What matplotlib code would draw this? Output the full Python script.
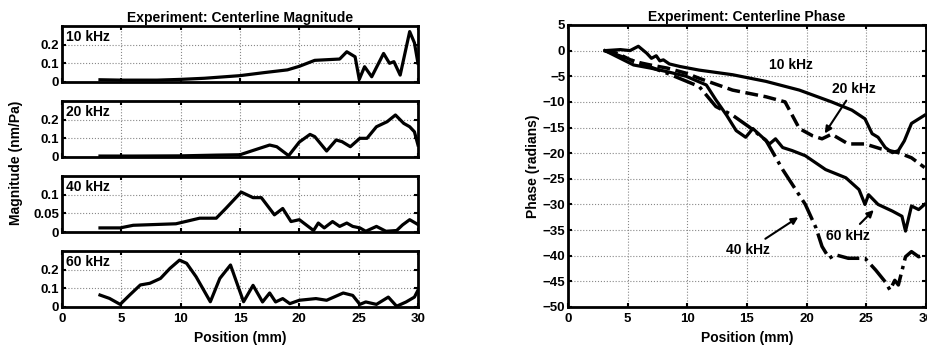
import matplotlib
matplotlib.use("Agg")
import matplotlib.pyplot as plt
import numpy as np

matplotlib.rcParams['font.family'] = ['Liberation Sans', 'DejaVu Sans']
matplotlib.rcParams['font.weight'] = 'bold'

# Magnitude curves (position mm, magnitude nm/Pa)
mag_10_x = [3.2, 5, 8, 10, 12, 15, 17, 19, 20, 21.3, 22.5, 23.4, 24.0, 24.7, 25.05, 25.5, 26.1, 27.1, 27.6, 27.97, 28.5, 29.3, 29.7, 30.0]
mag_10_y = [0.012, 0.01, 0.01, 0.014, 0.02, 0.034, 0.05, 0.065, 0.084, 0.116, 0.12, 0.123, 0.162, 0.135, 0.014, 0.082, 0.028, 0.153, 0.1, 0.109, 0.037, 0.27, 0.21, 0.1]

mag_20_x = [3.2, 6, 10, 13, 15, 16.1, 17.5, 18.1, 19.1, 20.0, 20.9, 21.3, 22.3, 23.1, 23.6, 24.3, 25.1, 25.7, 26.5, 27.4, 28.1, 28.8, 29.3, 29.7, 30.0]
mag_20_y = [0.005, 0.005, 0.006, 0.01, 0.012, 0.035, 0.064, 0.055, 0.007, 0.08, 0.121, 0.109, 0.032, 0.091, 0.082, 0.055, 0.1, 0.1, 0.162, 0.189, 0.225, 0.18, 0.162, 0.135, 0.064]

mag_40_x = [3.2, 4.9, 6.0, 9.6, 11.6, 13.0, 13.8, 15.1, 16.1, 16.8, 17.9, 18.6, 19.3, 20.0, 21.2, 21.6, 22.1, 22.8, 23.4, 24.0, 24.5, 25.1, 25.6, 26.5, 27.3, 28.2, 28.7, 29.3, 30.0]
mag_40_y = [0.011, 0.011, 0.018, 0.022, 0.037, 0.037, 0.063, 0.107, 0.092, 0.092, 0.046, 0.063, 0.028, 0.033, 0.004, 0.024, 0.011, 0.028, 0.015, 0.024, 0.015, 0.011, 0.002, 0.015, 0.002, 0.004, 0.019, 0.033, 0.02]

mag_60_x = [3.2, 4.0, 4.9, 5.7, 6.6, 7.4, 8.3, 9.1, 9.9, 10.5, 11.3, 12.5, 13.3, 14.2, 14.7, 15.3, 16.1, 16.9, 17.5, 18.0, 18.6, 19.2, 20.0, 21.4, 22.3, 23.7, 24.5, 25.1, 25.6, 26.5, 27.5, 28.2, 29.0, 29.7, 30.0]
mag_60_y = [0.064, 0.046, 0.014, 0.064, 0.118, 0.127, 0.153, 0.207, 0.251, 0.234, 0.162, 0.028, 0.153, 0.225, 0.135, 0.028, 0.116, 0.027, 0.075, 0.027, 0.045, 0.018, 0.036, 0.045, 0.036, 0.075, 0.062, 0.014, 0.027, 0.014, 0.053, 0.004, 0.027, 0.053, 0.09]

mag_labels = ["10 kHz", "20 kHz", "40 kHz", "60 kHz"]
mag_ylims = [0.3, 0.3, 0.15, 0.3]
mag_yticks = [[0, 0.1, 0.2], [0, 0.1, 0.2], [0, 0.05, 0.1], [0, 0.1, 0.2]]

# Phase curves (position mm, phase radians)
ph_10_x = [3.1, 4.4, 5.2, 5.9, 6.6, 7.0, 7.4, 7.7, 8.0, 8.5, 9.4, 11.0, 13.8, 16.6, 19.4, 22.1, 23.8, 24.9, 25.5, 26.0, 26.6, 27.2, 27.7, 28.2, 28.8, 29.9]
ph_10_y = [0.0, 0.2, 0.0, 0.85, -0.5, -1.5, -1.0, -2.0, -1.8, -2.6, -3.1, -3.8, -4.7, -6.0, -7.7, -10.0, -11.6, -13.3, -16.2, -16.9, -18.9, -19.9, -19.5, -17.6, -14.2, -12.6]

ph_20_x = [3.1, 4.1, 5.5, 6.9, 8.3, 9.9, 11.0, 13.8, 16.6, 18.2, 18.8, 19.4, 20.5, 21.3, 22.1, 23.5, 24.9, 26.3, 27.7, 28.8, 29.9]
ph_20_y = [0.0, -0.5, -2.1, -2.8, -3.4, -4.4, -5.4, -7.7, -9.0, -10.0, -12.6, -15.2, -16.6, -17.2, -16.3, -18.2, -18.2, -19.2, -19.9, -20.9, -22.8]

ph_40_x = [3.1, 5.5, 8.3, 11.0, 12.4, 13.8, 15.2, 16.6, 18.0, 19.9, 20.8, 21.3, 21.9, 22.4, 23.5, 24.9, 25.8, 26.6, 27.0, 27.4, 27.7, 28.3, 28.8, 29.4, 29.9]
ph_40_y = [0.0, -2.0, -4.4, -7.0, -10.9, -12.6, -14.9, -17.5, -23.2, -30.0, -34.6, -38.2, -40.5, -39.8, -40.5, -40.5, -42.8, -45.1, -46.7, -44.8, -45.7, -40.2, -39.2, -40.2, -39.8]

ph_60_x = [3.1, 5.5, 6.9, 8.3, 9.9, 11.6, 12.4, 13.3, 14.1, 14.9, 15.5, 16.3, 16.9, 17.4, 18.0, 18.8, 19.9, 21.6, 23.3, 24.4, 24.9, 25.2, 26.0, 27.2, 28.0, 28.3, 28.8, 29.4, 29.9]
ph_60_y = [0.0, -2.8, -3.4, -4.1, -5.0, -6.7, -9.6, -12.6, -15.6, -16.9, -15.2, -16.9, -18.2, -17.2, -18.9, -19.5, -20.5, -23.2, -24.8, -27.1, -30.0, -28.1, -30.0, -31.3, -32.3, -35.2, -30.3, -31.0, -30.0]

mag_x = [mag_10_x, mag_20_x, mag_40_x, mag_60_x]
mag_y = [mag_10_y, mag_20_y, mag_40_y, mag_60_y]


def style_axes(ax):
    ax.set_xlim(0, 30)
    ax.set_xticks([0, 5, 10, 15, 20, 25, 30])
    ax.grid(True, linestyle=':', color='#888888', linewidth=0.8)
    ax.tick_params(direction='in', top=True, right=True, width=1.5, length=3,
                   labelsize=9.5, pad=2)
    ax.tick_params(axis='x', pad=4)
    for s in ax.spines.values():
        s.set_linewidth(2)
    for lab in ax.get_xticklabels() + ax.get_yticklabels():
        lab.set_fontweight('bold')


fig = plt.figure(figsize=(9.27, 3.47), dpi=100)

bottoms = [0.7637, 0.5476, 0.3314, 0.1153]
for i in range(4):
    ax = fig.add_axes([0.0669, bottoms[i], 0.384, 0.1614])
    ax.plot(mag_x[i], mag_y[i], color='black', linewidth=2.3)
    ax.set_ylim(0, mag_ylims[i])
    ax.set_yticks(mag_yticks[i])
    ax.set_yticklabels([f"{t:g}" for t in mag_yticks[i]])
    style_axes(ax)
    ax.text(0.012, 0.93, mag_labels[i], transform=ax.transAxes, va='top',
            ha='left', fontsize=10, fontweight='bold')
    if i == 0:
        ax.set_title("Experiment: Centerline Magnitude", fontsize=10,
                     fontweight='bold', pad=3)
    if i < 3:
        ax.set_xticklabels([])
    else:
        ax.set_xlabel("Position (mm)", fontsize=10, fontweight='bold', labelpad=5)

fig.text(0.017, 0.53, "Magnitude (nm/Pa)", rotation=90, va='center',
         ha='center', fontsize=10, fontweight='bold')

axr = fig.add_axes([0.6127, 0.1153, 0.386, 0.8127])
axr.plot(ph_10_x, ph_10_y, color='black', linewidth=2.3, linestyle='-')
axr.plot(ph_20_x, ph_20_y, color='black', linewidth=2.5, linestyle='--')
axr.plot(ph_40_x, ph_40_y, color='black', linewidth=2.5, linestyle='-.')
axr.plot(ph_60_x, ph_60_y, color='black', linewidth=2.3, linestyle='-')
axr.set_ylim(-50, 5)
axr.set_yticks(np.arange(-50, 6, 5))
style_axes(axr)
axr.set_title("Experiment: Centerline Phase", fontsize=10, fontweight='bold', pad=3)
axr.set_xlabel("Position (mm)", fontsize=10, fontweight='bold', labelpad=5)
axr.set_ylabel("Phase (radians)", fontsize=10, fontweight='bold', labelpad=2)

arrow = dict(arrowstyle='-|>', color='black', linewidth=1.5, mutation_scale=10)
axr.text(18.7, -2.8, "10 kHz", fontsize=10, fontweight='bold', ha='center', va='center')
axr.annotate("20 kHz", xy=(21.4, -16.6), xytext=(24.0, -7.4), fontsize=10,
             fontweight='bold', ha='center', va='center', arrowprops=arrow)
axr.annotate("60 kHz", xy=(25.8, -30.7), xytext=(23.5, -36.1), fontsize=10,
             fontweight='bold', ha='center', va='center', arrowprops=arrow)
axr.annotate("40 kHz", xy=(19.5, -32.2), xytext=(15.1, -38.9), fontsize=10,
             fontweight='bold', ha='center', va='center', arrowprops=arrow)

fig.savefig("out.png", dpi=100)
